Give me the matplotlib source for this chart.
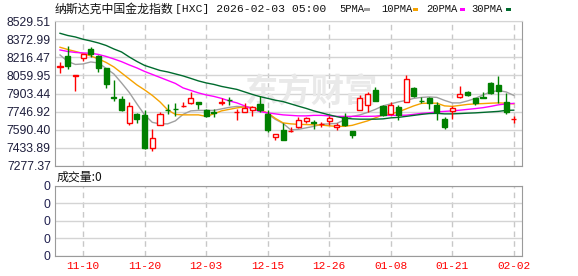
import matplotlib
matplotlib.use("Agg")
import matplotlib.pyplot as plt
from matplotlib.patches import Rectangle
import numpy as np

# ---------------- data ----------------
x_tick_idx = [3, 11, 19, 27, 35, 43, 51, 59]
x_tick_labels = ["11-10", "11-20", "12-03", "12-15", "12-26", "01-08", "01-21", "02-02"]
y_ticks = [8529.51, 8372.99, 8216.47, 8059.95, 7903.44, 7746.92, 7590.40, 7433.89, 7277.37]
y_tick_labels = ["8529.51", "8372.99", "8216.47", "8059.95", "7903.44",
                 "7746.92", "7590.40", "7433.89", "7277.37"]

opens = [8132.8, 8227.7, 8057.8, 8207.9, 8288.0, 8230.3, 8121.6, 7876.7, 7856.9, 7647.9,
         7727.5, 7718.9, 7431.7, 7632.9, 7762.0, 7770.6, 7793.2, 7820.3, 7830.4, 7762.0,
         7742.3, 7822.4, 7848.2, 7740.4, 7747.0, 7762.0, 7809.8, 7727.5, 7526.6, 7585.3,
         7580.9, 7615.4, 7667.2, 7656.0, 7637.0, 7667.2, 7618.0, 7699.1, 7583.5, 7762.0,
         7805.5, 7934.5, 7797.5, 7724.9, 7790.1, 7828.4, 7949.2, 7840.0, 7863.4, 7805.5,
         7684.4, 7756.0, 7876.7, 7919.8, 7863.4, 7872.0, 7992.3, 7977.6, 7833.6, 7680.1]
highs = [8173.4, 8316.5, 8063.9, 8245.0, 8305.3, 8236.2, 8124.3, 8020.7, 7882.7, 7828.4,
         7736.1, 7762.0, 7597.8, 7747.0, 7814.2, 7820.3, 7828.4, 7915.1, 7830.4, 7768.0,
         7768.0, 7863.4, 7872.0, 7768.0, 7820.3, 7798.0, 7877.6, 7762.0, 7555.1, 7647.9,
         7618.0, 7704.3, 7704.3, 7675.8, 7661.3, 7710.3, 7647.9, 7733.3, 7583.5, 7891.4,
         7919.8, 7955.3, 7805.5, 7833.6, 7805.5, 8063.9, 7955.3, 7876.7, 7872.0, 7833.6,
         7699.1, 7799.2, 7969.1, 7925.9, 7863.4, 7915.1, 8000.9, 8057.8, 7906.0, 7712.9]
lows = [8083.7, 8112.9, 7928.5, 8184.6, 8221.9, 8092.3, 7954.5, 7840.0, 7753.4, 7632.9,
        7647.9, 7428.0, 7403.0, 7630.0, 7727.5, 7710.3, 7786.4, 7814.2, 7768.0, 7704.3,
        7704.3, 7805.5, 7805.5, 7675.8, 7747.0, 7710.3, 7747.0, 7571.0, 7503.3, 7503.3,
        7571.0, 7609.0, 7647.9, 7595.6, 7618.0, 7632.9, 7589.5, 7626.9, 7521.0, 7762.0,
        7747.0, 7842.2, 7712.9, 7718.9, 7675.8, 7828.4, 7876.7, 7820.3, 7768.0, 7675.8,
        7597.8, 7684.4, 7863.4, 7882.7, 7805.5, 7863.4, 7900.2, 7824.9, 7725.7, 7647.9]
closes = [8137.1, 8141.4, 8063.9, 8242.3, 8242.3, 8121.6, 7986.2, 7862.9, 7762.0, 7797.5,
          7681.8, 7431.7, 7517.9, 7727.5, 7757.7, 7766.3, 7797.5, 7863.4, 7813.2, 7710.3,
          7736.1, 7826.7, 7843.9, 7744.7, 7781.4, 7786.4, 7762.0, 7591.2, 7555.1, 7503.3,
          7583.5, 7675.8, 7690.3, 7651.7, 7641.4, 7690.3, 7632.9, 7632.9, 7546.5, 7863.4,
          7900.2, 7842.2, 7718.9, 7805.5, 7718.9, 8029.4, 7882.7, 7835.6, 7820.3, 7742.3,
          7618.0, 7776.7, 7897.4, 7891.4, 7820.3, 7867.7, 7906.0, 7928.5, 7742.3, 7681.8]

ma5 = [8236.3, 8180.2, 8154.4, 8158.7, 8175.9, 8167.3, 8120.0, 8072.5, 7995.0, 7913.0,
       7813.8, 7719.0, 7654.3, 7641.3, 7641.3, 7667.2, 7723.2, 7753.4, 7757.7, 7757.7,
       7757.7, 7770.6, 7783.6, 7792.2, 7787.9, 7779.2, 7762.0, 7727.5, 7680.1, 7645.6,
       7589.5, 7593.9, 7606.8, 7619.7, 7637.0, 7641.3, 7645.6, 7675.8, 7706.0, 7718.9,
       7740.4, 7766.3, 7796.5, 7813.8, 7831.0, 7843.9, 7861.2, 7869.8, 7874.1, 7869.8,
       7843.9, 7822.4, 7822.4, 7839.6, 7861.2, 7891.4, 7917.2, 7928.5, 7917.2, 7887.0]
ma10 = [8302.7, 8283.7, 8266.5, 8249.2, 8227.7, 8201.8, 8171.6, 8132.8, 8081.1, 8029.3,
        7977.6, 7934.5, 7887.0, 7831.0, 7762.0, 7723.2, 7718.9, 7718.9, 7718.9, 7706.0,
        7727.5, 7753.4, 7766.3, 7779.2, 7787.9, 7783.6, 7762.0, 7736.1, 7688.7, 7649.9,
        7641.3, 7637.0, 7635.3, 7632.9, 7630.3, 7624.2, 7619.7, 7619.7, 7628.6, 7647.9,
        7667.2, 7693.0, 7718.9, 7727.5, 7744.7, 7770.6, 7796.5, 7818.0, 7819.8, 7819.8,
        7796.5, 7792.2, 7800.8, 7809.4, 7813.8, 7816.3, 7819.8, 7822.4, 7819.8, 7813.8]
ma20 = [8279.4, 8266.5, 8257.9, 8253.6, 8251.0, 8240.6, 8223.4, 8201.8, 8178.5, 8150.1,
        8124.2, 8094.0, 8068.2, 8042.3, 8016.4, 7990.5, 7951.7, 7930.2, 7908.6, 7891.4,
        7878.4, 7861.2, 7839.6, 7822.4, 7796.5, 7770.6, 7747.3, 7736.1, 7727.5, 7718.9,
        7714.6, 7710.3, 7710.3, 7714.6, 7714.6, 7710.3, 7706.0, 7706.0, 7706.0, 7706.0,
        7706.0, 7707.7, 7714.6, 7714.6, 7714.6, 7716.3, 7723.2, 7731.8, 7736.1, 7744.7,
        7749.1, 7753.4, 7759.4, 7766.3, 7773.2, 7781.0, 7792.2, 7805.5, 7813.8, 7818.1]
ma30 = [8423.4, 8404.5, 8391.5, 8371.7, 8357.0, 8339.8, 8318.2, 8288.0, 8262.2, 8219.0,
        8180.2, 8145.8, 8124.2, 8102.6, 8089.7, 8072.5, 8055.2, 8034.0, 8012.1, 7994.9,
        7982.0, 7964.7, 7951.7, 7938.8, 7917.2, 7895.7, 7876.7, 7861.2, 7845.6, 7833.6,
        7813.8, 7793.9, 7775.0, 7753.4, 7736.1, 7718.9, 7703.4, 7690.3, 7684.4, 7681.8,
        7681.8, 7681.8, 7684.4, 7693.0, 7697.3, 7706.0, 7714.6, 7723.2, 7730.1, 7731.8,
        7727.5, 7727.5, 7730.1, 7733.5, 7736.1, 7740.4, 7744.7, 7749.1, 7757.7, 7759.4]

vol_ticks = [0, 1, 2, 3, 4]
vol_labels = ["0", "0", "0", "0", "0"]

# ---------------- figure ----------------
W, H = 578, 276
fig = plt.figure(figsize=(W / 100, H / 100), dpi=100)
fig.patch.set_facecolor("white")

def fx(px):
    return px / W

def fy(py):
    return 1 - py / H

ax = fig.add_axes([fx(55), fy(166), fx(467), 145 / H])
axv = fig.add_axes([fx(55), fy(255.5), fx(467), 69.5 / H])

UP = "#FF0000"
DOWN = "#008000"
GRID = "#D4D4D4"
SPINE = "#9A9A9A"
n = len(opens)
xs = np.arange(n)
bw = 0.66

for i in range(n):
    o, h, l, c = opens[i], highs[i], lows[i], closes[i]
    up = c >= o
    col = UP if up else DOWN
    ax.vlines(xs[i], l, h, color=col, lw=1, zorder=3)
    bottom = min(o, c)
    height = max(abs(c - o), 0.5)
    ax.add_patch(Rectangle((xs[i] - bw / 2, bottom), bw, height,
                           facecolor="white" if up else col, edgecolor=col,
                           lw=1, zorder=4))

ax.plot(xs, ma5, color="#A0A0A0", lw=1, zorder=2)
ax.plot(xs, ma10, color="#F5A200", lw=1, zorder=2)
ax.plot(xs, ma20, color="#FF00FF", lw=1, zorder=2)
ax.plot(xs, ma30, color="#006B2E", lw=1, zorder=2)

ax.set_xlim(-0.65, n + 0.07)
ax.set_ylim(y_ticks[-1], y_ticks[0])
ax.set_yticks(y_ticks)
ax.set_yticklabels(y_tick_labels)
ax.set_xticks(x_tick_idx)
ax.set_xticklabels([])
ax.tick_params(axis="both", length=0, pad=3)
for lab in ax.get_yticklabels():
    lab.set_fontfamily("Liberation Sans")
    lab.set_fontsize(8.8)
    lab.set_color("#1E1E3C")
ax.grid(axis="y", color=GRID, lw=1, zorder=0)
ax.grid(axis="x", color="#C8C8C8", lw=1, ls=(0, (4, 3)), zorder=0)
ax.set_axisbelow(True)
for s in ["left", "right", "bottom"]:
    ax.spines[s].set_color(SPINE)
ax.spines["top"].set_color(GRID)

# watermark
ax.text(0.405, 0.5, "东方财富", transform=ax.transAxes, fontsize=24,
        family="Noto Sans CJK SC", fontweight="bold", color="#E9E9E9",
        ha="left", va="center", zorder=1)

# volume panel
axv.set_xlim(-0.65, n + 0.07)
axv.set_ylim(0, 4)
axv.set_yticks(vol_ticks)
axv.set_yticklabels(vol_labels)
axv.set_xticks(x_tick_idx)
axv.set_xticklabels(x_tick_labels)
axv.tick_params(axis="both", length=0)
axv.tick_params(axis="y", pad=3)
axv.tick_params(axis="x", pad=4)
for lab in axv.get_yticklabels():
    lab.set_fontfamily("Liberation Sans")
    lab.set_fontsize(8.8)
    lab.set_color("#202050")
for lab in axv.get_xticklabels():
    lab.set_fontfamily("Liberation Mono")
    lab.set_fontsize(8)
    lab.set_color("#FF0000")
axv.grid(axis="y", color=GRID, lw=1)
axv.grid(axis="x", color="#C8C8C8", lw=1, ls=(0, (4, 3)))
axv.set_axisbelow(True)
for s in axv.spines.values():
    s.set_color(SPINE)

# title & legend
fig.text(fx(55), fy(9), "纳斯达克中国金龙指数", family="Noto Sans CJK SC",
         fontsize=8.6, va="center", ha="left", color="#111111")
fig.text(fx(175), fy(9), "[HXC] 2026-02-03 05:00", family="Liberation Mono",
         fontsize=8.2, va="center", ha="left", color="#111111")

legend_items = [("5PMA", "#A0A0A0", 339, 364.5),
                ("10PMA", "#F5A200", 381, 412.5),
                ("20PMA", "#FF00FF", 426, 459.5),
                ("30PMA", "#006B2E", 471.5, 505.5)]
for name, col, tx, sx in legend_items:
    fig.text(fx(tx), fy(9), name, family="Liberation Mono", fontsize=7.6,
             va="center", ha="left", color="#111111")
    fig.patches.append(Rectangle((fx(sx), fy(11)), fx(5.5), 3.5 / H,
                                 transform=fig.transFigure, facecolor=col,
                                 edgecolor="none"))

fig.text(fx(57), fy(177.5), "成交量:0", family=["Noto Sans CJK SC", "DejaVu Sans"],
         fontsize=8.6, va="center", ha="left", color="#111111")

fig.savefig("out.png", dpi=100)
